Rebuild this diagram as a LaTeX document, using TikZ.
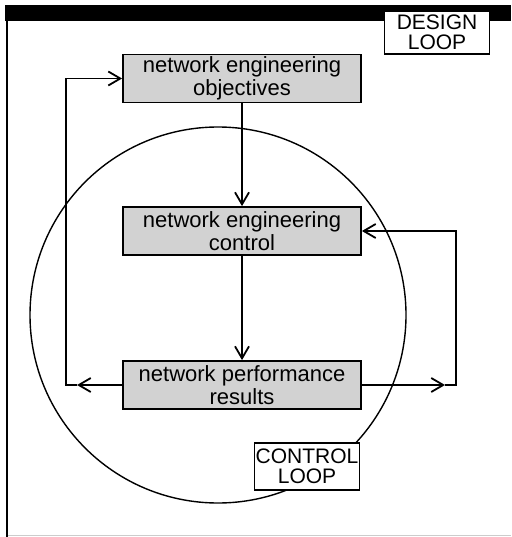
\documentclass[tikz,border=0pt]{standalone}
\usepackage{fontspec}
\setmainfont{Liberation Sans}
\usetikzlibrary{arrows.meta}

\begin{document}
\begin{tikzpicture}[x=1pt,y=-1pt,
    blockbox/.style={draw,line width=1.8pt,fill=gray!35,minimum width=238pt,minimum height=48pt,inner sep=0pt,align=center,font=\fontsize{22}{23}\selectfont},
    loopbox/.style={draw,line width=1.8pt,fill=white,minimum width=105pt,inner sep=0pt,align=center,font=\fontsize{21}{20}\selectfont},
    arr/.style={line width=1.8pt,-{Straight Barb[length=12pt,width=14pt]}}]
    \useasboundingbox (0,0) rectangle (511,537);
    % frame
    \fill (5,5) rectangle (511,21);
    \draw[line width=2.4pt] (7,21) -- (7,537);
    \draw[gray!40] (8,535.5) -- (511,535.5);
    % control loop circle
    \draw[line width=1.4pt] (218,315) circle[radius=188pt];
    % boxes
    \node[blockbox] (obj) at (242,78.5) {network engineering\\objectives};
    \node[blockbox] (ctl) at (242,231) {network engineering\\control};
    \node[blockbox] (res) at (242,385) {network performance\\results};
    \node[loopbox,minimum height=43pt] (design) at (437,32.5) {DESIGN\\LOOP};
    \node[loopbox,minimum height=47pt] (control) at (307,466.5) {CONTROL\\LOOP};
    % corners of the loops
    \coordinate (lhead) at (77,385);
    \coordinate (lbot) at (66,385);
    \coordinate (rhead) at (445,385);
    \coordinate (rbot) at (456,385);
    % flow down
    \draw[arr] (obj) -- (ctl);
    \draw[arr] (ctl) -- (res);
    % design loop
    \draw[arr] (res.west) -- (lhead);
    \draw[arr] (lhead) -- (lbot) |- (obj.west);
    % control loop
    \draw[arr] (res.east) -- (rhead);
    \draw[arr] (rhead) -- (rbot) |- (ctl.east);
\end{tikzpicture}
\end{document}
